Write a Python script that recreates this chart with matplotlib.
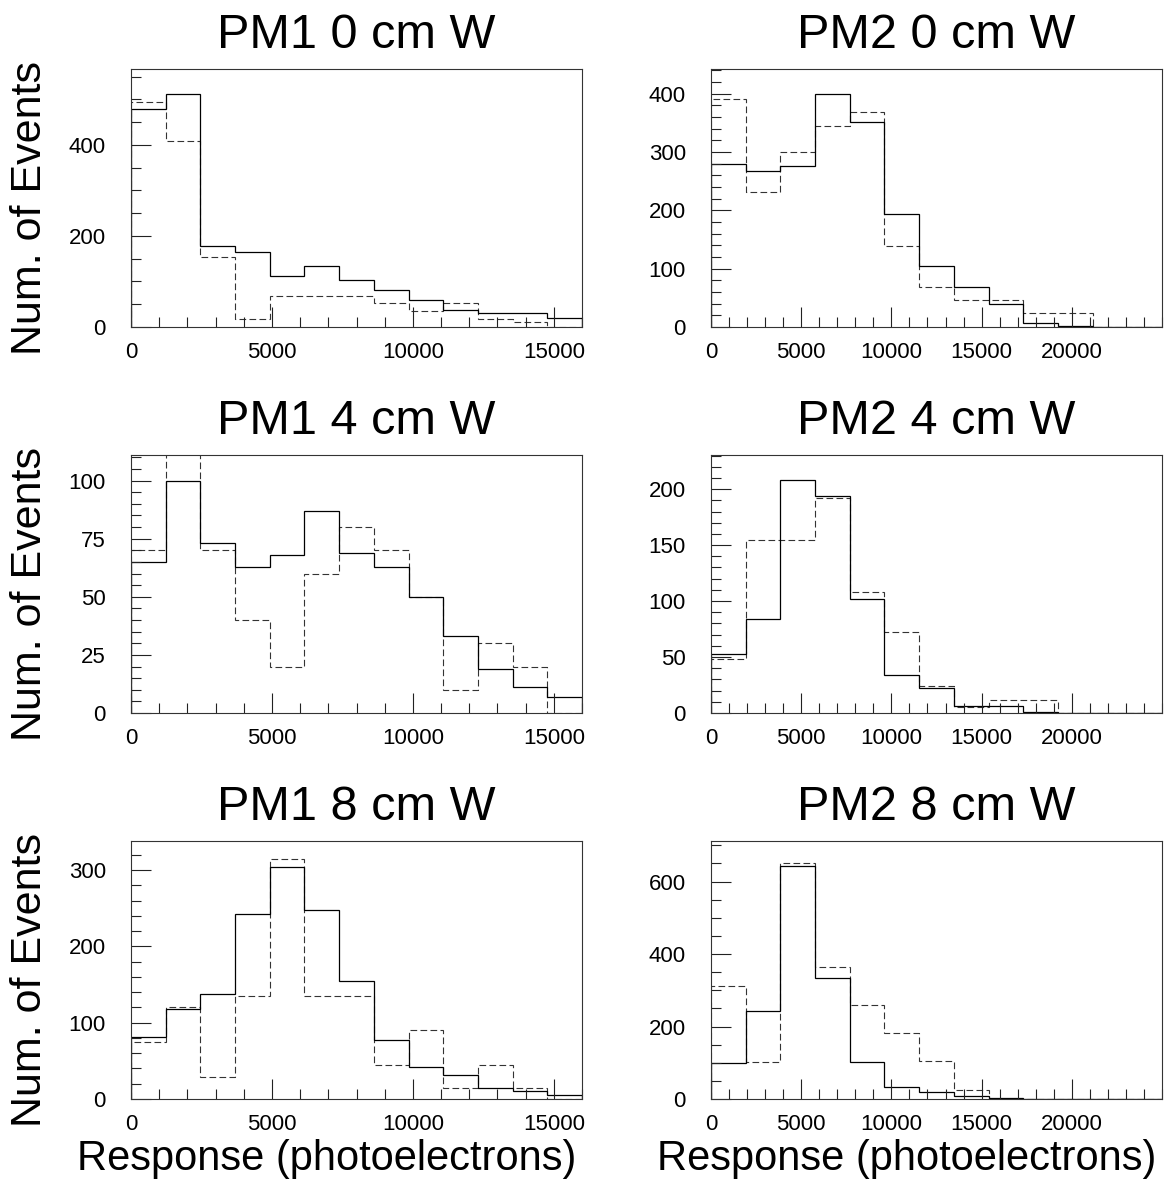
import numpy as np
import matplotlib
matplotlib.use('Agg')
import matplotlib.pyplot as plt
from matplotlib.ticker import MultipleLocator, FixedLocator

plt.rcParams['font.family'] = ['Liberation Sans', 'DejaVu Sans']

# 13 bins per histogram
N_BINS = 13

titles = ['PM1 0 cm W', 'PM2 0 cm W',
          'PM1 4 cm W', 'PM2 4 cm W',
          'PM1 8 cm W', 'PM2 8 cm W']

# x range of each panel (photoelectrons)
x_max = [16000, 25000, 16000, 25000, 16000, 25000]
y_max = [567, 442, 111, 230.5, 338, 712]
y_major = [200, 100, 25, 50, 100, 200]
y_minor = [50, 20, 5, 10, 20, 50]

# solid histograms
pm1_0_solid = [478, 512, 179, 165, 113, 135, 103, 81, 59, 38, 31, 31, 20]
pm2_0_solid = [280, 267, 275, 399, 352, 194, 104, 69, 39, 6, 1, 0, 0]
pm1_4_solid = [65, 100, 73, 63, 68, 87, 69, 63, 50, 33, 19, 11, 7]
pm2_4_solid = [53, 84, 208, 194, 102, 34, 22, 6, 6, 1, 0, 0, 0]
pm1_8_solid = [81, 118, 138, 242, 304, 247, 154, 77, 42, 32, 14, 11, 5]
pm2_8_solid = [98, 242, 642, 333, 101, 32, 18, 9, 4, 0, 0, 0, 0]

# dashed histograms
pm1_0_dashed = [495, 409, 154, 18, 69, 69, 69, 52, 35, 52, 18, 10, 0]
pm2_0_dashed = [391, 231, 300, 345, 369, 138, 69, 47, 47, 24, 24, 0, 0]
pm1_4_dashed = [70, 125, 70, 40, 20, 60, 80, 70, 50, 10, 30, 20, 0]
pm2_4_dashed = [48, 155, 155, 192, 108, 72, 24, 5, 12, 12, 0, 0, 0]
pm1_8_dashed = [75, 120, 29, 135, 315, 135, 135, 44, 90, 14, 45, 15, 0]
pm2_8_dashed = [312, 103, 650, 364, 259, 182, 104, 26, 0, 0, 0, 0, 0]

solid = [pm1_0_solid, pm2_0_solid, pm1_4_solid, pm2_4_solid, pm1_8_solid, pm2_8_solid]
dashed = [pm1_0_dashed, pm2_0_dashed, pm1_4_dashed, pm2_4_dashed, pm1_8_dashed, pm2_8_dashed]

W, H = 1167, 1182
fig = plt.figure(figsize=(W / 100, H / 100), dpi=100)

col_left = [131, 711]
row_top = [69, 455, 841]
ax_w, ax_h = 451, 258

for i in range(6):
    r, c = divmod(i, 2)
    x0 = col_left[c] / W
    y0 = 1 - (row_top[r] + ax_h) / H
    ax = fig.add_axes([x0, y0, ax_w / W, ax_h / H])

    edges = np.linspace(0, x_max[i], N_BINS + 1)
    ax.stairs(dashed[i], edges, color='#333333', lw=0.8, linestyle=(0, (6, 3)))
    ax.stairs(solid[i], edges, color='black', lw=0.9)

    ax.set_xlim(0, x_max[i])
    ax.set_ylim(0, y_max[i])
    xt = [0, 5000, 10000, 15000] if c == 0 else [0, 5000, 10000, 15000, 20000]
    ax.xaxis.set_major_locator(FixedLocator(xt))
    ax.xaxis.set_minor_locator(MultipleLocator(1000))
    ax.yaxis.set_major_locator(MultipleLocator(y_major[i]))
    ax.yaxis.set_minor_locator(MultipleLocator(y_minor[i]))
    ax.tick_params(which='both', direction='in', top=False, right=False,
                   labelsize=16, width=0.8, color='#222222')
    ax.tick_params(which='major', length=14.5)
    ax.tick_params(which='minor', length=7.2)
    ax.tick_params(axis='x', pad=11)
    ax.tick_params(axis='y', pad=18)
    for sp in ax.spines.values():
        sp.set_linewidth(0.8)
        sp.set_color('#333333')

    ax.set_title(titles[i], fontsize=35, pad=15)
    if c == 0:
        ax.text(-0.224, 0.46, 'Num. of Events', rotation=90, fontsize=31,
                ha='center', va='center', transform=ax.transAxes)
    if r == 2:
        ax.text(0.435, -0.275, 'Response (photoelectrons)', fontsize=30,
                ha='center', va='baseline', transform=ax.transAxes)

fig.savefig('out.png', dpi=100)
